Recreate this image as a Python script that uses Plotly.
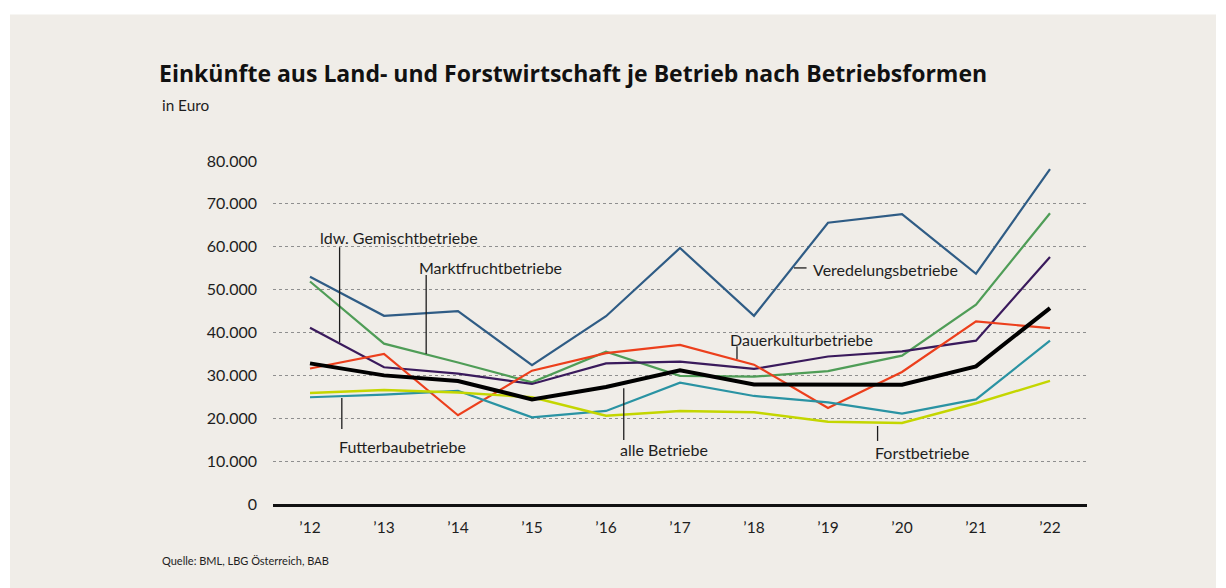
import plotly.graph_objects as go

# ---------------- data ----------------
years = ["’12", "’13", "’14", "’15", "’16", "’17", "’18", "’19", "’20", "’21", "’22"]

veredelung = [53000, 43900, 45000, 32400, 43800, 59700, 43900, 65600, 67600, 53700, 78100]
marktfrucht = [51900, 37400, 33000, 28400, 35500, 29900, 29700, 31000, 34600, 46500, 67800]
gemischt = [41100, 31900, 30400, 28000, 32800, 33200, 31500, 34400, 35600, 38100, 57600]
dauerkultur = [31600, 35000, 20700, 31100, 35200, 37100, 32500, 22400, 30800, 42600, 41000]
alle = [32800, 30000, 28700, 24400, 27300, 31200, 27900, 27800, 27800, 32100, 45700]
futterbau = [24900, 25500, 26400, 20200, 21700, 28300, 25200, 23700, 21100, 24400, 38100]
forst = [25900, 26600, 26000, 24900, 20600, 21700, 21400, 19200, 18900, 23500, 28700]

series_names = ["Veredelungsbetriebe", "Marktfruchtbetriebe", "ldw. Gemischtbetriebe",
                "Dauerkulturbetriebe", "Futterbaubetriebe", "Forstbetriebe", "alle Betriebe"]
series_values = [veredelung, marktfrucht, gemischt, dauerkultur, futterbau, forst, alle]
series_colors = ["#2f5c85", "#4f9d57", "#3a1a5c", "#ec3f1c", "#2a93a3", "#c4d600", "#000000"]
series_widths = [2.2, 2.2, 2.2, 2.2, 2.2, 2.4, 4]

# ---------------- geometry ----------------
W, H = 1226, 588
L, R, T, B = 273, 1087, 160.7, 504
x_idx = list(range(len(years)))

def px(x):
    return (x - L) / (R - L)

def py(y):
    return (B - y) / (B - T)

TEXT = "#1e1e1e"
FONT = "Lato"

fig = go.Figure()
for name, vals, col, w in zip(series_names, series_values, series_colors, series_widths):
    fig.add_trace(go.Scatter(x=x_idx, y=vals, mode="lines", name=name,
                             line=dict(color=col, width=w), cliponaxis=False))

# labels (data coordinates) with leader lines
labels = [
    ("ldw. Gemischtbetriebe", 0.11, 62200),
    ("Marktfruchtbetriebe", 1.44, 55100),
    ("Veredelungsbetriebe", 6.77, 54700),
    ("Dauerkulturbetriebe", 5.65, 38400),
    ("Futterbaubetriebe", 0.37, 13350),
    ("alle Betriebe", 4.16, 12600),
    ("Forstbetriebe", 7.61, 11950),
]
annotations = []
for txt, ax, ay in labels:
    annotations.append(dict(x=ax, y=ay, xref="x", yref="y", text=txt, showarrow=False,
                            xanchor="left", yanchor="middle",
                            font=dict(family=FONT, size=16, color=TEXT)))

leaders = [
    (0.40, 59900, 0.40, 37700),
    (1.57, 53400, 1.57, 35000),
    (6.54, 55060, 6.71, 55060),
    (5.77, 36800, 5.77, 33800),
    (0.43, 24700, 0.43, 17500),
    (4.24, 27000, 4.24, 14900),
    (7.67, 18200, 7.67, 14700),
]
shapes = [dict(type="rect", xref="paper", yref="paper",
               x0=px(10), x1=px(1216), y0=py(H + 5), y1=py(14),
               fillcolor="#f0ede8", line=dict(width=0), layer="below")]
for x0, y0, x1, y1 in leaders:
    shapes.append(dict(type="line", xref="x", yref="y", x0=x0, y0=y0, x1=x1, y1=y1,
                       line=dict(color="#1e1e1e", width=1.3), layer="above"))

annotations += [
    dict(x=px(160), y=py(105), xref="paper", yref="paper", text="in Euro", showarrow=False,
         xanchor="left", yanchor="middle", font=dict(family=FONT, size=15.3, color=TEXT)),
    dict(x=px(160), y=py(561), xref="paper", yref="paper", text="Quelle: BML, LBG Österreich, BAB",
         showarrow=False, xanchor="left", yanchor="middle", font=dict(family=FONT, size=11, color=TEXT)),
]

fig.update_layout(
    width=W, height=H,
    margin=dict(l=L, r=W - R, t=T, b=H - B, pad=0),
    paper_bgcolor="#ffffff", plot_bgcolor="rgba(0,0,0,0)",
    showlegend=False,
    separators=",.",
    title=dict(text="<b>Einkünfte aus Land- und Forstwirtschaft je Betrieb nach Betriebsformen</b>",
               x=159 / W, y=1 - 74 / H, xref="container", yref="container",
               xanchor="left", yanchor="middle",
               font=dict(family="Open Sans", size=23, color="#111111")),
    xaxis=dict(range=[-0.5, 10.5], tickmode="array", tickvals=x_idx, ticktext=years,
               showgrid=False, zeroline=False, showline=True, linecolor="#111111", linewidth=3,
               ticks="", ticklabelstandoff=7,
               tickfont=dict(family=FONT, size=15.5, color=TEXT)),
    yaxis=dict(range=[0, 80000], tickvals=[0, 10000, 20000, 30000, 40000, 50000, 60000, 70000, 80000],
               tickformat=",.0f", showgrid=True, gridcolor="#8f8f8f", gridwidth=1, griddash="dot",
               zeroline=False, showline=False, ticks="", ticklabelstandoff=15,
               tickfont=dict(family=FONT, size=16, color=TEXT)),
    annotations=annotations,
    shapes=shapes,
)

fig.write_html("out.html", config={"displayModeBar": False},
               post_script="document.body.style.margin='0';document.body.style.overflow='hidden';")
